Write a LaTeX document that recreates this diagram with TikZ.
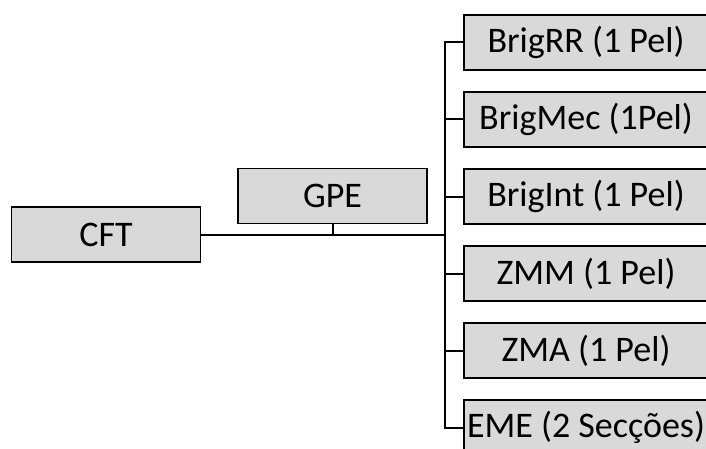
\documentclass[tikz,border=0pt]{standalone}
\usepackage{fontspec}
\setmainfont{Carlito}
\usepackage{tikz}
\definecolor{boxgray}{HTML}{D9D9D9}

\tikzset{
    unit/.style={draw=black, line width=1.4pt, fill=boxgray, minimum width=189pt,
        minimum height=55pt, inner sep=0pt, font=\fontsize{36}{40}\selectfont},
    subunit/.style={unit, minimum width=244pt},
    link/.style={line width=2pt}
}

\begin{document}
\begin{tikzpicture}[x=1pt, y=-1pt]
    \useasboundingbox (0,0) rectangle (706,449);
    \clip (0,0) rectangle (706,449);

    % Command and group
    \node[unit] (cft) at (106,234.5) {CFT};
    \node[unit] (gpe) at (332.5,196) {GPE};

    % Subordinate units
    \node[subunit] (r1) at (586,42.5) {BrigRR (1 Pel)};
    \node[subunit] (r2) at (586,119.5) {BrigMec (1Pel)};
    \node[subunit] (r3) at (586,196.5) {BrigInt (1 Pel)};
    \node[subunit] (r4) at (586,273.5) {ZMM (1 Pel)};
    \node[subunit] (r5) at (586,350.5) {ZMA (1 Pel)};
    \node[subunit] (r6) at (586,427.5) {EME (2 Secções)};

    % Bus
    \coordinate (bus) at (445,0);
    \draw[link] (cft.east) -- (bus |- cft.east);
    \draw[link] (gpe.south) -- (gpe.south |- cft.east);
    \draw[link] (r1.west) -- (bus |- r1.west) -- (bus |- r6.west) -- (r6.west);
    \foreach \r in {r2,r3,r4,r5} {
        \draw[link] (\r.west) -- (bus |- \r.west);
    }
\end{tikzpicture}
\end{document}
